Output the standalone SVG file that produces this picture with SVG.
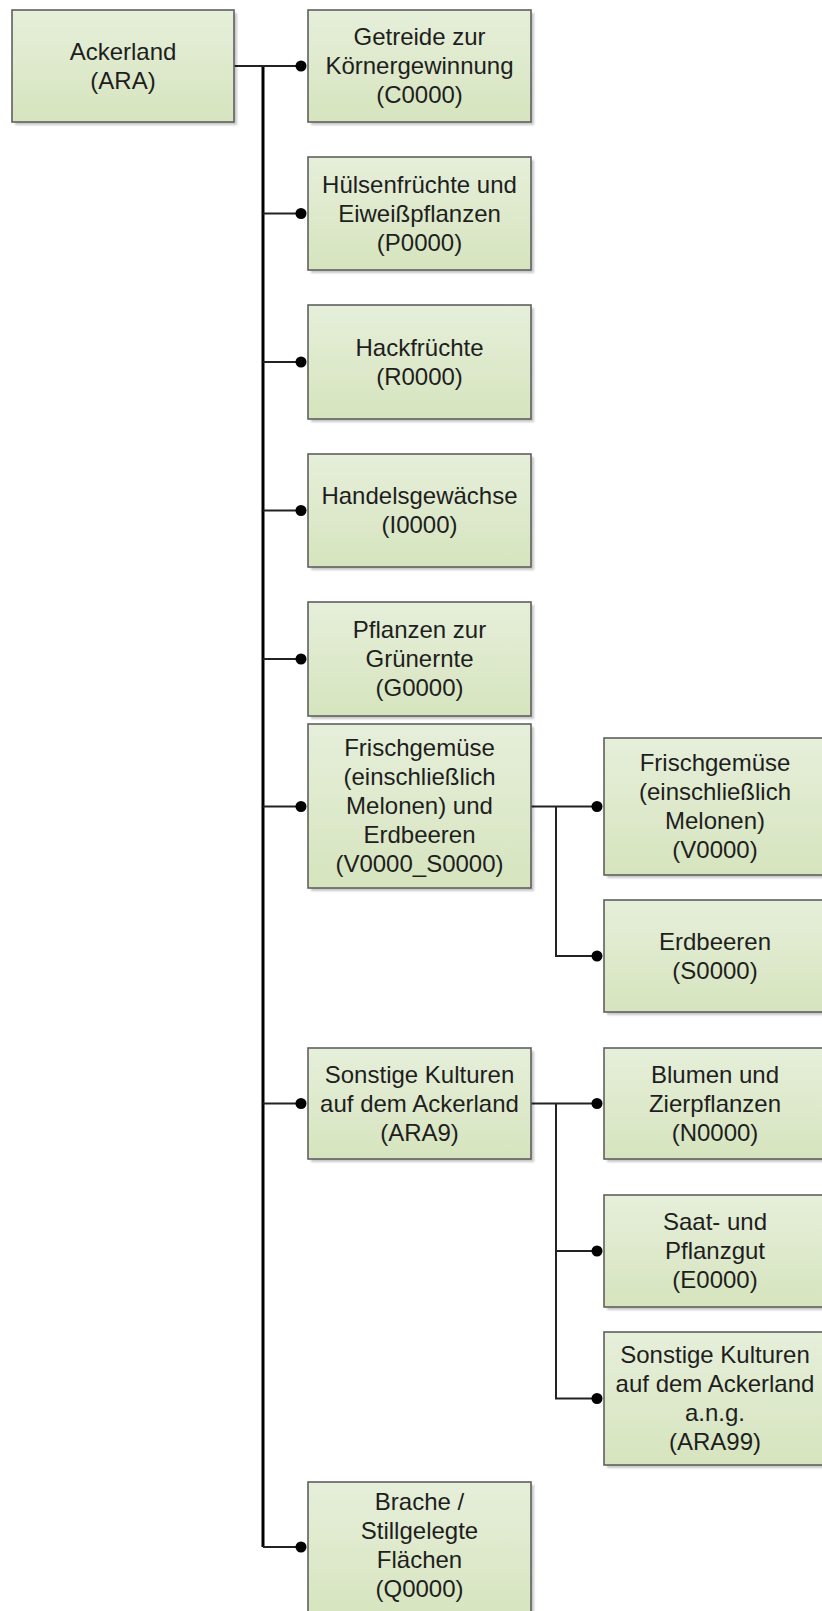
<svg xmlns="http://www.w3.org/2000/svg" width="822" height="1611" viewBox="0 0 822 1611">
<defs>
<linearGradient id="g" x1="0" y1="0" x2="0" y2="1">
<stop offset="0" stop-color="#e6efda"/>
<stop offset="1" stop-color="#d6e4be"/>
</linearGradient>
<filter id="blur" x="-10%" y="-10%" width="120%" height="120%"><feGaussianBlur stdDeviation="1.2"/></filter>
<style>
.box{fill:url(#g);stroke:#606060;stroke-width:1.6}
.sh{fill:#000;opacity:0.22;filter:url(#blur)}
text{font-family:"Liberation Sans",Arial,sans-serif;font-size:24px;fill:#1e1e1e;text-anchor:middle}
.trunk{stroke:#000;stroke-width:3;fill:none}
.ln{stroke:#222;stroke-width:2;fill:none}
.dot{fill:#000}
</style>
</defs>
<rect width="822" height="1611" fill="#fff"/>

<g id="connectors">
<line class="trunk" x1="263" y1="66" x2="263" y2="1547"/>
<line class="ln" x1="234" y1="66" x2="301" y2="66"/>
<line class="ln" x1="263" y1="213.5" x2="301" y2="213.5"/>
<line class="ln" x1="263" y1="362" x2="301" y2="362"/>
<line class="ln" x1="263" y1="510.5" x2="301" y2="510.5"/>
<line class="ln" x1="263" y1="659" x2="301" y2="659"/>
<line class="ln" x1="263" y1="806.5" x2="301" y2="806.5"/>
<line class="ln" x1="263" y1="1103.5" x2="301" y2="1103.5"/>
<line class="ln" x1="263" y1="1547" x2="301" y2="1547"/>
<path class="ln" d="M531 806.5H597M556 806.5V956H597"/>
<path class="ln" d="M531 1103.5H597M556 1103.5V1398.5H597M556 1251H597"/>
<circle class="dot" cx="301" cy="66" r="5.5"/>
<circle class="dot" cx="301" cy="213.5" r="5.5"/>
<circle class="dot" cx="301" cy="362" r="5.5"/>
<circle class="dot" cx="301" cy="510.5" r="5.5"/>
<circle class="dot" cx="301" cy="659" r="5.5"/>
<circle class="dot" cx="301" cy="806.5" r="5.5"/>
<circle class="dot" cx="301" cy="1103.5" r="5.5"/>
<circle class="dot" cx="301" cy="1547" r="5.5"/>
<circle class="dot" cx="597" cy="806.5" r="5.5"/>
<circle class="dot" cx="597" cy="956" r="5.5"/>
<circle class="dot" cx="597" cy="1103.5" r="5.5"/>
<circle class="dot" cx="597" cy="1251" r="5.5"/>
<circle class="dot" cx="597" cy="1398.5" r="5.5"/>
</g>

<g id="ARA">
<rect class="sh" x="15" y="13" width="222" height="112"/>
<rect class="box" x="12" y="10" width="222" height="112"/>
<text x="123" y="59.5">Ackerland</text>
<text x="123" y="88.5">(ARA)</text>
</g>

<g id="C0000">
<rect class="sh" x="311" y="13" width="223" height="112"/>
<rect class="box" x="308" y="10" width="223" height="112"/>
<text x="419.5" y="45">Getreide zur</text>
<text x="419.5" y="74">Körnergewinnung</text>
<text x="419.5" y="103">(C0000)</text>
</g>

<g id="P0000">
<rect class="sh" x="311" y="160" width="223" height="113"/>
<rect class="box" x="308" y="157" width="223" height="113"/>
<text x="419.5" y="192.5">Hülsenfrüchte und</text>
<text x="419.5" y="221.5">Eiweißpflanzen</text>
<text x="419.5" y="250.5">(P0000)</text>
</g>

<g id="R0000">
<rect class="sh" x="311" y="308" width="223" height="114"/>
<rect class="box" x="308" y="305" width="223" height="114"/>
<text x="419.5" y="355.5">Hackfrüchte</text>
<text x="419.5" y="384.5">(R0000)</text>
</g>

<g id="I0000">
<rect class="sh" x="311" y="457" width="223" height="113"/>
<rect class="box" x="308" y="454" width="223" height="113"/>
<text x="419.5" y="504">Handelsgewächse</text>
<text x="419.5" y="533">(I0000)</text>
</g>

<g id="G0000">
<rect class="sh" x="311" y="605" width="223" height="114"/>
<rect class="box" x="308" y="602" width="223" height="114"/>
<text x="419.5" y="638">Pflanzen zur</text>
<text x="419.5" y="667">Grünernte</text>
<text x="419.5" y="696">(G0000)</text>
</g>

<g id="V0000_S0000">
<rect class="sh" x="311" y="727" width="223" height="164"/>
<rect class="box" x="308" y="724" width="223" height="164"/>
<text x="419.5" y="756">Frischgemüse</text>
<text x="419.5" y="785">(einschließlich</text>
<text x="419.5" y="814">Melonen) und</text>
<text x="419.5" y="843">Erdbeeren</text>
<text x="419.5" y="872">(V0000_S0000)</text>
</g>

<g id="ARA9">
<rect class="sh" x="311" y="1051" width="223" height="111"/>
<rect class="box" x="308" y="1048" width="223" height="111"/>
<text x="419.5" y="1082.5">Sonstige Kulturen</text>
<text x="419.5" y="1111.5">auf dem Ackerland</text>
<text x="419.5" y="1140.5">(ARA9)</text>
</g>

<g id="Q0000">
<rect class="sh" x="311" y="1485" width="223" height="140"/>
<rect class="box" x="308" y="1482" width="223" height="140"/>
<text x="419.5" y="1510">Brache /</text>
<text x="419.5" y="1539">Stillgelegte</text>
<text x="419.5" y="1568">Flächen</text>
<text x="419.5" y="1597">(Q0000)</text>
</g>

<g id="V0000">
<rect class="sh" x="607" y="741" width="223" height="137"/>
<rect class="box" x="604" y="738" width="223" height="137"/>
<text x="715" y="771">Frischgemüse</text>
<text x="715" y="800">(einschließlich</text>
<text x="715" y="829">Melonen)</text>
<text x="715" y="858">(V0000)</text>
</g>

<g id="S0000">
<rect class="sh" x="607" y="903" width="223" height="112"/>
<rect class="box" x="604" y="900" width="223" height="112"/>
<text x="715" y="949.5">Erdbeeren</text>
<text x="715" y="978.5">(S0000)</text>
</g>

<g id="N0000">
<rect class="sh" x="607" y="1051" width="223" height="111"/>
<rect class="box" x="604" y="1048" width="223" height="111"/>
<text x="715" y="1082.5">Blumen und</text>
<text x="715" y="1111.5">Zierpflanzen</text>
<text x="715" y="1140.5">(N0000)</text>
</g>

<g id="E0000">
<rect class="sh" x="607" y="1198" width="223" height="112"/>
<rect class="box" x="604" y="1195" width="223" height="112"/>
<text x="715" y="1230">Saat- und</text>
<text x="715" y="1259">Pflanzgut</text>
<text x="715" y="1288">(E0000)</text>
</g>

<g id="ARA99">
<rect class="sh" x="607" y="1335" width="223" height="133"/>
<rect class="box" x="604" y="1332" width="223" height="133"/>
<text x="715" y="1363">Sonstige Kulturen</text>
<text x="715" y="1392">auf dem Ackerland</text>
<text x="715" y="1421">a.n.g.</text>
<text x="715" y="1450">(ARA99)</text>
</g>
</svg>
